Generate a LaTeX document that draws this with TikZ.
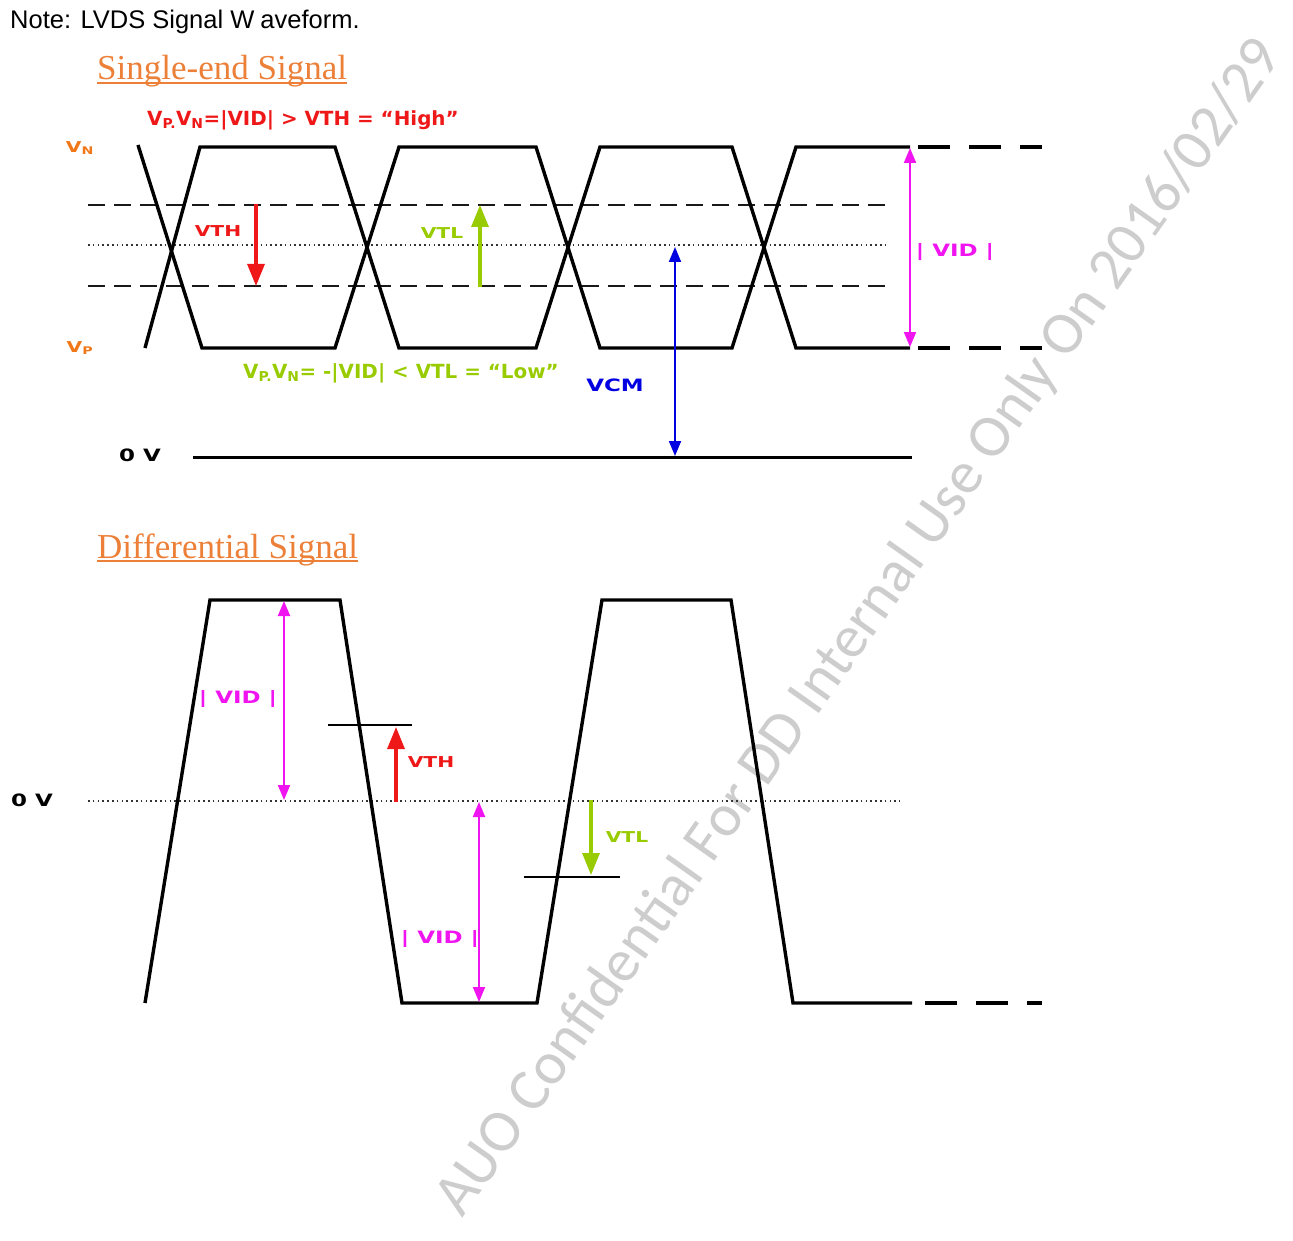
\documentclass[tikz,border=0pt]{standalone}
\usepackage{fontspec}
\usepackage{graphicx}
\setmainfont{Liberation Sans}
\newfontfamily\ttlfont{Liberation Serif}
\newfontfamily\lblfont{DejaVu Sans}
\newfontfamily\wmfont{Carlito}
\usetikzlibrary{arrows.meta}
\definecolor{ttlorange}{RGB}{236,128,56}
\definecolor{lblorange}{RGB}{240,120,24}
\definecolor{myred}{RGB}{238,24,24}
\definecolor{mygreen}{RGB}{153,204,0}
\definecolor{mymag}{RGB}{240,20,240}
\definecolor{myblue}{RGB}{0,0,225}
\definecolor{wmgray}{RGB}{205,205,205}
\newcommand\xw[1]{\scalebox{1.35}[1]{#1}}
\newcommand\fw[1]{\scalebox{1.02}[1]{#1}}
\tikzset{
  wave/.style={line width=3.4pt, line join=miter, black},
  wavedash/.style={line width=3.4pt, black, dash pattern=on 32pt off 19pt},
  thrdash/.style={line width=1.9pt, black!90, dash pattern=on 17pt off 9pt},
  dotline/.style={line width=1.6pt, black!80, dash pattern=on 1.6pt off 3.2pt},
  thinline/.style={line width=1.8pt, black},
  bigarr/.style={line width=3.2pt, -{Triangle[length=22pt,width=17pt]}},
  dblarr/.style={line width=2pt, {Triangle[length=15pt,width=12pt]}-{Triangle[length=15pt,width=12pt]}},
  lab/.style={inner sep=0pt, font=\lblfont\bfseries\fontsize{15}{18}\selectfont},
  biglab/.style={inner sep=0pt, font=\lblfont\bfseries\fontsize{17}{20}\selectfont},
  fml/.style={inner sep=0pt, font=\lblfont\bfseries\fontsize{19.5}{22}\selectfont},
  ttl/.style={inner sep=0pt, text=ttlorange, font=\ttlfont\fontsize{35}{40}\selectfont},
  wmk/.style={inner sep=0pt, text=wmgray, font=\wmfont\fontsize{60}{64}\selectfont}
}
\begin{document}
\begin{tikzpicture}[x=1pt,y=-1pt]
\useasboundingbox (0,0) rectangle (1293,1241);
\fill[white] (0,0) rectangle (1293,1241);
% watermark
\node[wmk, rotate=54.8] (wm) at (860,628) {AUO Confidential For DD Internal Use Only On 2016/02/29};
% note
\node[anchor=base west, inner sep=0pt, font=\fontsize{25.5}{30}\selectfont] (note) at (10,29) {Note: LVDS Signal W\kern6pt aveform.};
% titles
\node[ttl, anchor=base west] (t1) at (97,80) {Single-end Signal};
\draw[ttlorange, line width=1.6pt] (t1.base west) ++(0,3) -- ([yshift=-3pt]t1.base east);
\node[ttl, anchor=base west] (t2) at (97,558) {Differential Signal};
\draw[ttlorange, line width=1.6pt] (t2.base west) ++(0,3) -- ([yshift=-3pt]t2.base east);

% ---------- single-end ----------
\draw[thrdash] (88,205) -- (888,205);
\draw[thrdash] (88,286) -- (888,286);
\draw[dotline] (88,245) -- (888,245);
\draw[wave] (138,145) -- (202,348) -- (335,348) -- (399,147) -- (536,147) -- (600,348) -- (732,348) -- (796,147) -- (910,147);
\draw[wave] (145,348) -- (200,147) -- (335,147) -- (399,348) -- (536,348) -- (600,147) -- (732,147) -- (796,348) -- (910,348);
\draw[wavedash] (918,147) -- (1042,147);
\draw[wavedash] (918,348) -- (1042,348);
\draw[line width=3pt] (193,457) -- (912,457);

\node[lab, text=lblorange] (vn) at (80,148) {\xw{V\textsubscript{N}}};
\node[lab, text=lblorange] (vp) at (80,348) {\xw{V\textsubscript{P}}};
\node[biglab] (zv1) at (140,455) {\xw{0 V}};

\node[fml, text=myred, anchor=west] (high) at (147,120) {\fw{V\textsubscript{P.}V\textsubscript{N}=|VID| > VTH = “High”}};
\node[fml, text=mygreen, anchor=west] (low) at (243,373) {\fw{V\textsubscript{P.}V\textsubscript{N}= -|VID| < VTL = “Low”}};

\coordinate (vthA) at (256,204);
\coordinate (vthB) at (256,286);
\draw[bigarr, myred] (vthA) -- (vthB);
\node[lab, text=myred] (vth1) at (218,231) {\xw{VTH}};

\coordinate (vtlA) at (480,287);
\coordinate (vtlB) at (480,205);
\draw[bigarr, mygreen] (vtlA) -- (vtlB);
\node[lab, text=mygreen] (vtl1) at (442,233) {\xw{VTL}};

\coordinate (vidA) at (910,148);
\coordinate (vidB) at (910,347);
\draw[dblarr, mymag] (vidA) -- (vidB);
\node[biglab, text=mymag] (vid1) at (955,252) {\xw{| VID |}};

\coordinate (vcmA) at (675,247);
\coordinate (vcmB) at (675,456);
\draw[dblarr, myblue] (vcmA) -- (vcmB);
\node[biglab, text=myblue] (vcm) at (615,385) {\xw{VCM}};

% ---------- differential ----------
\draw[dotline] (88,801) -- (900,801);
\draw[wave] (145,1003) -- (210,600) -- (340,600) -- (402,1003) -- (537,1003) -- (602,600) -- (731,600) -- (793,1003) -- (912,1003);
\draw[wavedash] (925,1003) -- (1042,1003);
\node[biglab] (zv2) at (32,800) {\xw{0 V}};

\coordinate (lvthA) at (328,725);
\coordinate (lvthB) at (412,725);
\draw[thinline] (lvthA) -- (lvthB);
\coordinate (avthA) at (396,802);
\coordinate (avthB) at (396,727);
\draw[bigarr, myred] (avthA) -- (avthB);
\node[lab, text=myred] (vth2) at (431,762) {\xw{VTH}};

\coordinate (lvtlA) at (524,877);
\coordinate (lvtlB) at (620,877);
\draw[thinline] (lvtlA) -- (lvtlB);
\coordinate (avtlA) at (591,800);
\coordinate (avtlB) at (591,875);
\draw[bigarr, mygreen] (avtlA) -- (avtlB);
\node[lab, text=mygreen] (vtl2) at (627,837) {\xw{VTL}};

\coordinate (vid2A) at (284,601);
\coordinate (vid2B) at (284,800);
\draw[dblarr, mymag] (vid2A) -- (vid2B);
\node[biglab, text=mymag] (vid2) at (238,699) {\xw{| VID |}};

\coordinate (vid3A) at (479,802);
\coordinate (vid3B) at (479,1002);
\draw[dblarr, mymag] (vid3A) -- (vid3B);
\node[biglab, text=mymag] (vid3) at (440,939) {\xw{| VID |}};
\end{tikzpicture}
\end{document}
